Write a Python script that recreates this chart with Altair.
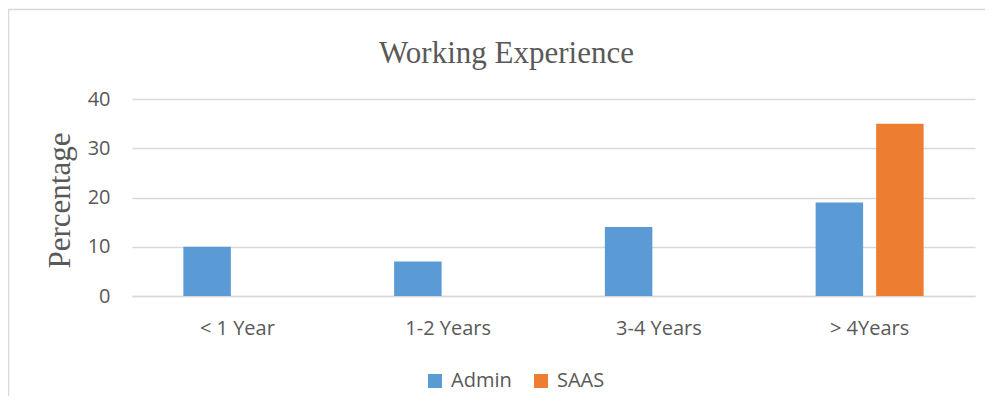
import altair as alt
import pandas as pd

categories = ["< 1 Year", "1-2 Years", "3-4 Years", "> 4Years"]
series = ["Admin", "SAAS"]
admin = [10, 7, 14, 19]
saas = [0, 0, 0, 35]
colors = ["#5B9BD5", "#ED7D31"]
y_ticks = [0, 10, 20, 30, 40]

rows = []
for c, a, s in zip(categories, admin, saas):
    rows.append({"category": c, "series": "Admin", "value": a})
    rows.append({"category": c, "series": "SAAS", "value": s})
df = pd.DataFrame(rows)

TEXT = "#595959"
GRID = "#D9D9D9"

frame = alt.Chart(pd.DataFrame({"f": [0]})).mark_rect(
    fill=None, stroke=GRID, strokeWidth=1.5
).encode(
    x=alt.value(-123.5), x2=alt.value(1000),
    y=alt.value(-89.5), y2=alt.value(500),
)

bars = alt.Chart(df).mark_bar().encode(
    x=alt.X("category:N", sort=categories,
            scale=alt.Scale(paddingInner=0.4875, paddingOuter=0.24375),
            axis=alt.Axis(title=None, labelAngle=0, ticks=False, domain=True,
                          domainColor=GRID, domainWidth=1.5, labelPadding=22,
                          labelFont="Open Sans", labelFontSize=20, labelColor=TEXT,
                          grid=False)),
    xOffset=alt.XOffset("series:N", sort=series,
                        scale=alt.Scale(paddingInner=0.215, paddingOuter=0)),
    y=alt.Y("value:Q", scale=alt.Scale(domain=[0, 40], nice=False),
            axis=alt.Axis(values=y_ticks, domain=False, ticks=False, grid=True,
                          gridColor=GRID, gridWidth=1.5, labelPadding=22,
                          labelFont="Open Sans", labelFontSize=20, labelColor=TEXT,
                          title="Percentage", titleFont="Liberation Serif",
                          titleFontSize=31, titleFontWeight="normal", titleColor=TEXT,
                          titleX=-72, titleY=101, titleAngle=270,
                          titleAlign="center", titleBaseline="middle")),
    color=alt.Color("series:N", sort=series,
                    scale=alt.Scale(domain=series, range=colors),
                    legend=alt.Legend(title=None, orient="none", legendX=293, legendY=272,
                                      direction="horizontal", symbolType="square",
                                      symbolSize=196, symbolStrokeWidth=0,
                                      labelFont="Open Sans", labelFontSize=20,
                                      labelColor=TEXT, labelOffset=6, columnPadding=19)),
)

chart = alt.layer(frame, bars).properties(
    width=843, height=197,
    title=alt.TitleParams("Working Experience", font="Liberation Serif", fontSize=31,
                          fontWeight="normal", color=TEXT, anchor="middle", dx=-47,
                          offset=0, dy=85, baseline="alphabetic"),
    autosize=alt.AutoSizeParams(type="none"),
    padding={"left": 124, "top": 91, "right": 10, "bottom": 100},
).configure_view(stroke=None)

chart.save("out.html", embed_options={"renderer": "svg", "actions": False})
